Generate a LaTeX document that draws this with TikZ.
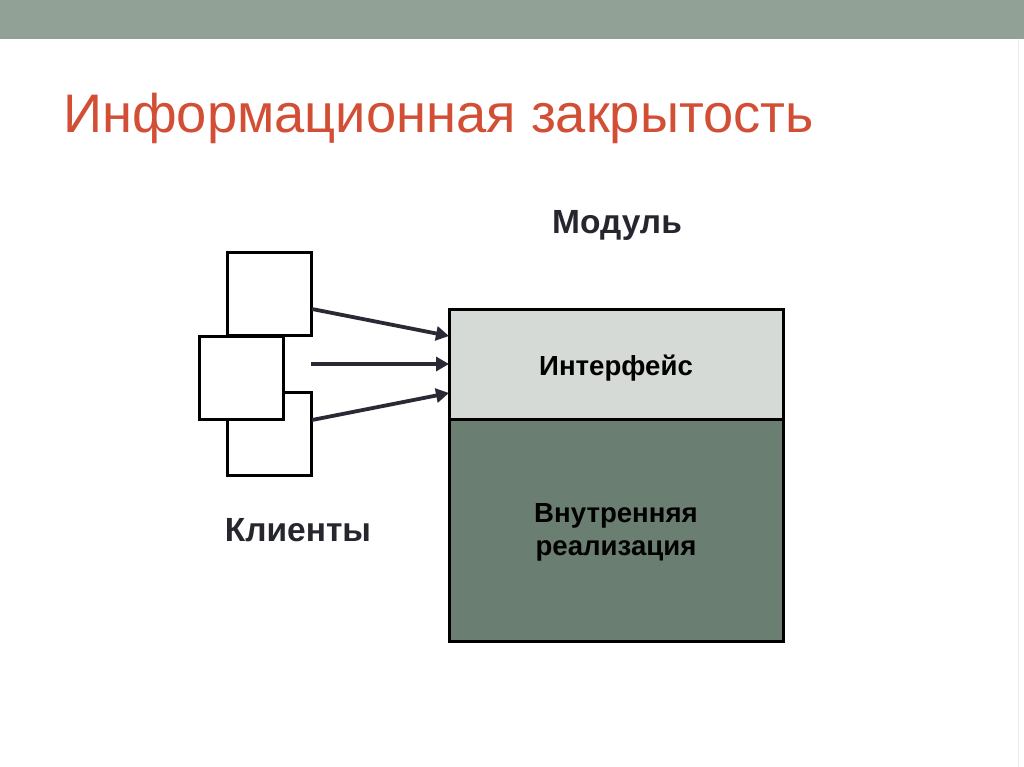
\documentclass[tikz,border=0pt]{standalone}
\usepackage{fontspec}
\setmainfont{Liberation Sans}
\usetikzlibrary{arrows.meta}
\definecolor{barcol}{HTML}{92A195}
\definecolor{titlecol}{HTML}{D24F36}
\definecolor{txtcol}{HTML}{26262E}
\definecolor{linecol}{HTML}{2A2A36}
\definecolor{ifcol}{HTML}{D5DAD6}
\definecolor{implcol}{HTML}{6B7E72}
\tikzset{
  client/.style={draw=black, fill=white, line width=3pt},
  modpart/.style={draw=black, line width=3pt},
  conn/.style={draw=linecol, line width=3.8pt, -{Triangle[length=13pt,width=14pt]}},
  lbl/.style={text=txtcol, font=\bfseries\fontsize{33.5}{40}\selectfont},
  inlbl/.style={text=black, font=\bfseries\fontsize{27.6}{33}\selectfont, align=center},
}
\begin{document}
\begin{tikzpicture}[x=1pt,y=-1pt]
\useasboundingbox (0,0) rectangle (1024,767);
\fill[white] (0,0) rectangle (1024,767);
\fill[barcol] (0,0) rectangle (1024,39);
\draw[gray!15, line width=1pt] (1018,39) -- (1018,767);
\node[anchor=base west, inner sep=0pt, text=titlecol, font=\fontsize{54.3}{60}\selectfont] (title) at (63,133) {Информационная закрытость};
% clients
\draw[client] (227,392) rectangle (311,475);
\draw[client] (227,252) rectangle (311,335);
\draw[client] (199,336) rectangle (283,419);
\coordinate (c1) at (312,309);
\coordinate (c2) at (311,364);
\coordinate (c3) at (312,420);
% module
\draw[modpart, fill=implcol] (449,419) rectangle (783,641);
\draw[modpart, fill=ifcol] (449,309) rectangle (783,419);
\coordinate (i1) at (449,336);
\coordinate (i2) at (449,364);
\coordinate (i3) at (449,393);
\draw[conn] (c1) -- (i1);
\draw[conn] (c2) -- (i2);
\draw[conn] (c3) -- (i3);
\node[lbl] (modul) at (617,225) {Модуль};
\node[lbl] (clients) at (298,530) {Клиенты};
\node[inlbl] (iface) at (616,368) {Интерфейс};
\node[inlbl] (impl) at (616,532) {Внутренняя\\реализация};
\end{tikzpicture}
\end{document}
